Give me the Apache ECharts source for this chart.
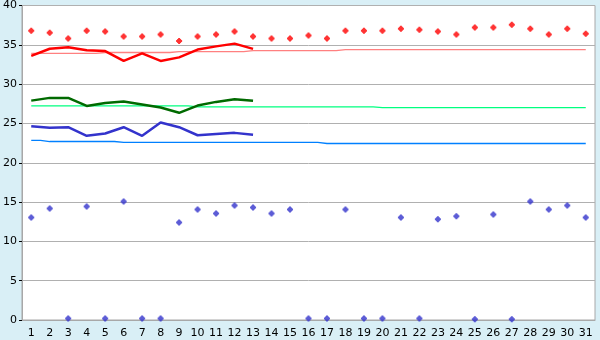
<!DOCTYPE html>
<html>
<head>
<meta charset="utf-8">
<script src="https://cdn.jsdelivr.net/npm/echarts@6/dist/echarts.min.js"></script>
<style>html,body{margin:0;padding:0;background:#d9eff6;}#c{width:600px;height:340px;}</style>
</head>
<body>
<div id="c"></div>
<script>
var days = ['1','2','3','4','5','6','7','8','9','10','11','12','13','14','15','16','17','18','19','20','21','22','23','24','25','26','27','28','29','30','31'];
var yTicks = [0, 40, 5];
var redDots = [36.8,36.55,35.8,36.8,36.7,36.05,36.05,36.3,35.5,36.05,36.3,36.7,36.05,35.8,35.8,36.2,35.8,36.8,36.8,36.8,37.05,36.9,36.7,36.3,37.2,37.2,37.55,37.05,36.3,37.05,36.4];
var redLine = [33.6,34.5,34.7,34.3,34.2,32.95,33.9,32.95,33.4,34.4,34.8,35.15,34.48];
var redAvg = [33.9,33.9,33.9,33.9,34.02,34.02,34.02,34.02,34.14,34.14,34.14,34.14,34.27,34.27,34.27,34.27,34.27,34.4,34.4,34.4,34.4,34.4,34.4,34.4,34.4,34.4,34.4,34.4,34.4,34.4,34.4];
var greenLine = [27.9,28.25,28.25,27.23,27.6,27.78,27.4,27.02,26.35,27.27,27.74,28.08,27.9];
var greenAvg = [27.23,27.23,27.23,27.23,27.23,27.23,27.23,27.23,27.23,27.1,27.1,27.1,27.1,27.1,27.1,27.1,27.1,27.1,27.1,27.02,27.02,27.02,27.02,27.02,27.02,27.02,27.02,27.02,27.02,27.02,27.02];
var blueLine = [24.65,24.44,24.52,23.42,23.72,24.52,23.42,25.12,24.52,23.5,23.67,23.8,23.55];
var blueAvg = [22.85,22.7,22.7,22.7,22.7,22.58,22.58,22.58,22.58,22.58,22.58,22.58,22.58,22.58,22.58,22.58,22.45,22.45,22.45,22.45,22.45,22.45,22.45,22.45,22.45,22.45,22.45,22.45,22.45,22.45,22.45];
var blueDots = [13.05,14.19,0.2,14.45,0.2,15.08,0.2,0.2,12.41,14.06,13.56,14.57,14.32,13.56,14.06,0.2,0.2,14.06,0.2,0.2,13.05,0.2,12.8,13.18,0.08,13.43,0.08,15.08,14.06,14.57,13.05];

var chart = echarts.init(document.getElementById('c'), null, {renderer:'canvas'});
var font = 'DejaVu Sans';
var marker = 'path://M2,0H4V1H5V2H6V4H5V5H4V6H2V5H1V4H0V2H1V1H2Z';
function thick(data, color) {
  return {type:'line', data:data, showSymbol:false, symbol:'none', silent:true,
    lineStyle:{color:color, width:2.5}, z:3};
}
function thin(data, color) {
  return {type:'line', data:data, step:'middle', showSymbol:false, symbol:'none', silent:true,
    lineStyle:{color:color, width:1.3}, z:2};
}
function dots(data, color) {
  return {type:'scatter', data:data, symbol:marker, symbolSize:6, silent:true,
    itemStyle:{color:color}, z:4};
}
chart.setOption({
  animation:false,
  backgroundColor:'#d9eff6',
  grid:{left:20, right:5, top:5, bottom:20, show:true, backgroundColor:'#ffffff', borderColor:'#a8a8a8', borderWidth:1},
  xAxis:{type:'category', data:days, boundaryGap:true,
    axisLine:{lineStyle:{color:'#a8a8a8'}},
    axisTick:{alignWithLabel:true, length:5, lineStyle:{color:'#000'}},
    axisLabel:{color:'#000', fontFamily:font, fontSize:11, margin:8, interval:0},
    splitLine:{show:false}},
  yAxis:{type:'value', min:yTicks[0], max:yTicks[1], interval:yTicks[2],
    axisLine:{show:true, lineStyle:{color:'#a8a8a8'}},
    axisTick:{show:true, length:3, lineStyle:{color:'#000'}},
    axisLabel:{color:'#000', fontFamily:font, fontSize:11, margin:5},
    splitLine:{lineStyle:{color:'#b0b0b0', width:1}}},
  series:[
    thin(redAvg, '#ff8080'),
    thin(greenAvg, '#00ff80'),
    thin(blueAvg, '#0080ff'),
    thick(redLine, '#ff0000'),
    thick(greenLine, '#006a00'),
    thick(blueLine, '#3333cc'),
    dots(redDots, '#ff0000'),
    dots(blueDots, '#3333cc')
  ]
});
</script>
</body>
</html>
